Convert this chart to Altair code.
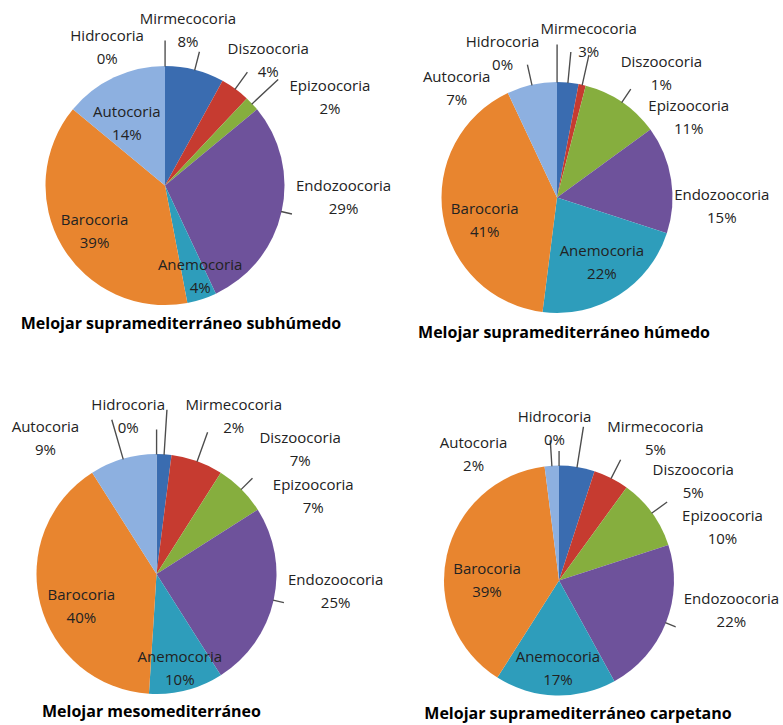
import altair as alt
import pandas as pd

# ---------------- data ----------------
categories = ["Hidrocoria", "Mirmecocoria", "Diszoocoria", "Epizoocoria",
              "Endozoocoria", "Anemocoria", "Barocoria", "Autocoria"]
subhumedo = [0, 8, 4, 2, 29, 4, 39, 14]
humedo = [0, 3, 1, 11, 15, 22, 41, 7]
meso = [0, 2, 7, 7, 25, 10, 40, 9]
carpetano = [0, 5, 5, 10, 22, 17, 39, 2]
titles = ["Melojar supramediterráneo subhúmedo",
          "Melojar supramediterráneo húmedo",
          "Melojar mesomediterráneo",
          "Melojar supramediterráneo carpetano"]

# ---------------- style / layout ----------------
colors = ["#4F81BD", "#3A6CB0", "#C63B30", "#86AE3E",
          "#6E529B", "#2E9DBB", "#E8852F", "#8DB0E0"]
FONT = "Open Sans"

# label placement (angle offset in degrees from slice middle, distance in px)
offsets = [
    [-22.7, -6, 3.6, 15.1, -8.6, -3, -2.4, -6.3],
    [-20.7, 6, 27.5, 24.6, 12, -2.2, -8.9, -30.1],
    [-10.2, 22.6, 29.3, 18.6, -6.9, 0.5, -9.2, -23.2],
    [-1.7, 25.1, 26.5, 17.9, -11.7, -1.1, -12.6, -30.6],
]
radii = [
    [150, 157, 162, 187, 179, 98, 84, 73],
    [154, 160, 162, 154, 165, 79, 76, 148],
    [160, 175, 190, 175, 180, 97, 82, 175],
    [152, 172, 167, 172, 175, 88, 72, 152],
]
# leader line length beyond the pie edge (0 = no leader)
leaders = [
    [25, 18, 20, 35, 10, 0, 0, 0],
    [37, 30, 30, 15, 0, 0, 0, 20],
    [24, 44, 30, 15, 10, 0, 0, 40],
    [14, 40, 20, 18, 10, 0, 0, 25],
]
pie_r = [119.5, 115.5, 120, 115]
panel = [  # width, height, title offset, title dx
    (330, 371, -55, 16),
    (300, 395, -70, 7),
    (313, 308, -24, -5),
    (304, 321, -35, 19),
]


def pie(values, k):
    R = pie_r[k]
    df = pd.DataFrame({"cat": categories, "value": values,
                       "idx": list(range(len(categories)))})
    cum = df["value"].cumsum()
    mid = cum - df["value"] / 2
    df["lab"] = (mid + pd.Series(offsets[k]) / 3.6) % 100
    df["r"] = radii[k]
    df["label"] = df["cat"] + "\n" + df["value"].astype(str) + "%"
    df["la"] = mid
    df["la2"] = mid + 0.02
    df["L"] = leaders[k]
    df["r1"] = R
    df["r2"] = R + df["L"]

    tscale = alt.Scale(domain=[0, 100])
    base = alt.Chart(df)
    arcs = base.mark_arc(outerRadius=R).encode(
        theta=alt.Theta("value:Q", stack=True, scale=tscale),
        color=alt.Color("cat:N", scale=alt.Scale(domain=categories, range=colors),
                        legend=None),
        order=alt.Order("idx:Q", sort="ascending"),
    )
    lead = base.transform_filter("datum.L > 0").mark_arc(
        filled=False, stroke="#4d4d4d", strokeWidth=1.2).encode(
        theta=alt.Theta("la:Q", stack=False, scale=tscale),
        theta2="la2:Q",
        radius=alt.Radius("r2:Q", scale=None),
        radius2="r1:Q",
    )
    text = base.mark_text(font=FONT, fontSize=15, lineBreak="\n", lineHeight=23,
                          align="center", baseline="middle", dy=-11.5,
                          color="#222222").encode(
        theta=alt.Theta("lab:Q", stack=False, scale=tscale),
        radius=alt.Radius("r:Q", scale=None),
        text="label:N",
    )
    w, h, toff, tdx = panel[k]
    return alt.layer(arcs, lead, text).properties(
        width=w, height=h,
        title=alt.TitleParams(titles[k], orient="bottom", frame="group",
                              offset=toff, dx=tdx, anchor="middle",
                              font=FONT, fontSize=16, fontWeight="bold",
                              color="#000000"),
    )


chart = alt.concat(
    pie(subhumedo, 0), pie(humedo, 1), pie(meso, 2), pie(carpetano, 3),
    columns=2, spacing=alt.RowColnumber(row=25, column=77),
    align="all", bounds="flush",
).properties(padding=0, background="white").configure_view(strokeWidth=0)

chart.save("out.html", embed_options={"renderer": "svg", "actions": False})
